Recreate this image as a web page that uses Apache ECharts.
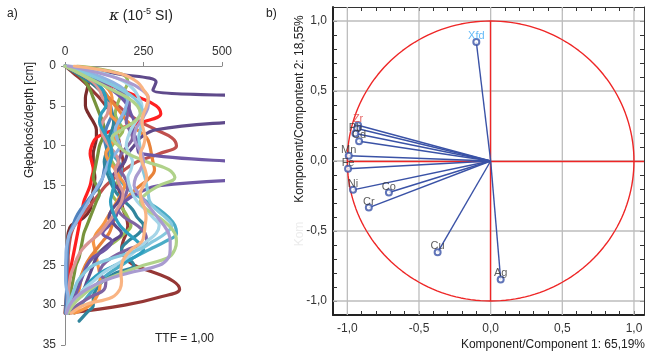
<!DOCTYPE html>
<html><head><meta charset="utf-8">
<script src="https://cdn.jsdelivr.net/npm/echarts@6/dist/echarts.min.js"></script>
<style>html,body{margin:0;padding:0;background:#fff}#c{width:647px;height:351px}</style>
</head><body><div id="c"></div>
<script>
// ---------- Panel a: magnetic susceptibility depth profiles ----------
var depthCm = [0,1,2,3,4,5,6,7,8,9,10,11,12,13,14,15,16,17,18,19,20,21,22,23,24,25,26,27,28,29,30,31,32];
var kappaTicks = [0,250,500];
var depthTicks = [0,5,10,15,20,25,30,35];

var kDarkPurple = [10,170,290,280,800,1200,900,540,290,240,220,200,190,170,150,160,180,170,150,140,160,180,150,120,100,90,80,70,60,40,20,10];
var kPurple2    = [0,60,110,150,180,200,210,220,215,225,230,240,560,1100,700,300,230,190,170,160,140,120,150,130,90,70,60,50,40,30,15,10];
var kBrown      = [0,30,60,85,110,130,150,160,165,170,175,180,185,180,175,170,175,180,185,195,200,195,185,180,190,220,290,345,365,300,190,10];
var kBrick      = [0,40,80,110,140,170,200,240,290,340,355,300,230,190,160,130,110,90,70,50,30,20,15,12,10,10,10,10,8,6,4,2];
var kMaroon     = [0,50,75,70,65,65,75,90,100,100,95,90,90,92,95,92,88,85,80,60,20,10,8,6,6,6,7,8,6,4,2,0];
var kRed        = [0,60,120,180,240,290,305,250,160,100,85,80,85,90,85,80,70,60,55,50,45,40,35,30,25,20,15,12,10,8,5,3];
var kOlive      = [0,40,65,80,90,100,110,120,125,120,110,105,100,95,90,100,110,100,90,80,70,60,55,50,45,35,30,25,20,15,10,5];
var kGreen      = [40,180,200,190,175,165,160,170,185,170,150,140,150,165,170,160,150,165,185,200,210,190,160,120,90,70,55,45,35,25,15,8];
var kTeal       = [0,80,140,170,190,200,190,175,160,150,140,150,170,180,175,190,220,260,300,330,350,355,320,270,220,180,140,110,90,70,50,30];
var kOrange     = [0,60,110,140,150,145,145,165,170,160,145,130,140,160,175,190,180,165,150,135,120,100,90,95,100,105,110,112,110,100,80,30];
var kOrange2    = [0,50,90,120,140,160,180,200,230,260,270,275,280,285,270,240,210,190,170,160,150,140,120,100,80,65,55,50,45,35,20,10];
var kPurple     = [0,70,130,175,200,205,200,195,205,215,200,180,170,175,190,200,195,180,170,190,230,255,260,200,150,120,110,130,125,80,40,10];
var kBlue       = [0,50,90,120,135,145,150,140,130,125,130,135,130,125,120,110,90,70,50,35,25,15,10,8,7,6,6,5,5,4,3,2];
var kLightBlue  = [0,90,150,190,200,195,185,170,160,165,175,160,140,130,120,105,90,75,60,45,30,15,8,4,3,2,2,2,5,10,8,4];
var kRose       = [0,50,90,110,120,140,135,120,115,125,140,160,170,160,165,175,185,180,165,150,130,110,80,55,40,30,20,15,12,10,8,5];
var kDarkTeal   = [0,40,80,110,130,140,150,155,150,140,135,130,125,130,140,150,165,190,215,230,250,235,200,180,200,220,160,120,100,90,90,68,45];
var kTeal2      = [5,60,100,120,130,130,115,110,120,135,145,150,145,140,150,155,150,145,150,160,175,200,230,250,220,160,110,80,60,40,20,8];
var kSky2       = [20,130,190,220,235,245,240,225,210,200,195,205,215,210,200,205,215,230,255,280,300,290,260,230,200,160,120,90,60,40,20,8];
var kSky        = [0,70,130,180,220,240,250,245,240,235,238,240,245,248,255,260,265,270,290,320,340,320,280,238,160,90,60,40,30,20,12,5];
var kLightGreen = [0,50,100,150,200,230,240,220,180,150,170,200,260,330,350,300,260,240,260,300,330,350,355,350,330,250,180,120,80,50,25,10];
var kLavender   = [10,120,200,245,265,265,255,240,225,220,230,245,250,240,225,220,235,255,275,295,315,330,335,335,330,300,200,120,70,35,15,5];
var kPeach      = [30,180,230,250,265,260,250,245,250,255,250,240,245,255,260,250,240,245,255,258,255,252,245,212,190,180,178,180,175,150,60,20];

var profiles = [
  [kMaroon,'#7b2c2c'],[kBrick,'#c0504d'],[kBrown,'#953735'],[kRed,'#ff2020'],
  [kOlive,'#77933c'],[kGreen,'#9bbb59'],[kBlue,'#4f81bd'],[kDarkTeal,'#31859c'],
  [kTeal,'#4bacc6'],[kOrange,'#f79646'],[kOrange2,'#e8833a'],[kPurple,'#8064a2'],
  [kDarkPurple,'#5f4a8b'],[kPurple2,'#6f58a6'],[kRose,'#d99694'],[kLightBlue,'#8db3e2'],
  [kTeal2,'#2e9fbf'],[kSky2,'#a5d5e8'],[kSky,'#86c8de'],[kLightGreen,'#b0d28a'],
  [kLavender,'#a99bd0'],[kPeach,'#f9b483']
];

// ---------- Panel b: PCA loadings ----------
var pcaNames = ['Xfd','Zr','','Pb','Cd','Mn','Fe','Ni','Co','Cr','Cu','Ag'];
var pcaPC1   = [-0.10,-0.925,-0.932,-0.944,-0.918,-0.99,-0.995,-0.96,-0.71,-0.85,-0.37,0.07];
var pcaPC2   = [0.85,0.255,0.232,0.196,0.141,0.037,-0.055,-0.206,-0.225,-0.333,-0.652,-0.846];
var pcaMajorTicks = [-1,-0.5,0,0.5,1];
var pcaMinorTicks = [-1,-0.9,-0.8,-0.7,-0.6,-0.5,-0.4,-0.3,-0.2,-0.1,0,0.1,0.2,0.3,0.4,0.5,0.6,0.7,0.8,0.9,1];
var pcaXRange = [-1.1, 1.07];
var pcaYRange = [-1.1, 1.1];
var circleRadius = 1;

var FONT = 'Liberation Sans, Arial, sans-serif';
function comma(v){ return (Math.round(v*10)/10).toFixed(1).replace('.', ','); }

var series = [];

// grid lines (panel b), one line series each, drawn first
pcaMajorTicks.forEach(function(t){
  [[[t,pcaYRange[0]],[t,pcaYRange[1]]], [[pcaXRange[0],t],[pcaXRange[1],t]]].forEach(function(seg){
    series.push({type:'line', xAxisIndex:1, yAxisIndex:1, data:seg, showSymbol:false, silent:true, z:1,
      lineStyle:{color:'#bdbdbd', width:1.3, opacity:1}});
  });
});

profiles.forEach(function(p){
  series.push({
    type:'line', xAxisIndex:0, yAxisIndex:0, showSymbol:false, smooth:0.4, clip:true,
    lineStyle:{color:p[1], width:3.2, cap:'round', join:'round'},
    data:p[0].map(function(v,i){ return [v, depthCm[i]]; }), silent:true
  });
});

// unit circle
var circ = [];
for (var a=0; a<=360; a+=2){ var r=a*Math.PI/180; circ.push([circleRadius*Math.cos(r), circleRadius*Math.sin(r)]); }
series.push({type:'line', xAxisIndex:1, yAxisIndex:1, data:circ, showSymbol:false, silent:true, z:3,
  lineStyle:{color:'#ee2626', width:1.4}});
// red axes lines
series.push({type:'lines', coordinateSystem:'cartesian2d', xAxisIndex:1, yAxisIndex:1, silent:true, z:3,
  lineStyle:{color:'#ee2626', width:1.4, opacity:1},
  data:[{coords:[[0,-circleRadius],[0,circleRadius]]},{coords:[[-circleRadius,0],[pcaXRange[1],0]]}]});
// loading vectors
series.push({type:'lines', coordinateSystem:'cartesian2d', xAxisIndex:1, yAxisIndex:1, silent:true, z:4,
  lineStyle:{color:'#3a52a6', width:1.4, opacity:1},
  data:pcaNames.map(function(n,i){ return {coords:[[0,0],[pcaPC1[i],pcaPC2[i]]]}; })});
// points with labels
series.push({type:'scatter', xAxisIndex:1, yAxisIndex:1, z:5, symbol:'emptyCircle', symbolSize:6,
  itemStyle:{color:'#3a52a6', borderWidth:1.4},
  data:pcaNames.map(function(n,i){
    var col = n==='Xfd' ? '#3fa9f5' : (n==='Zr' ? '#e04040' : '#333');
    return {value:[pcaPC1[i],pcaPC2[i]], label:{show:n!=='', formatter:n, color:col}};
  }),
  label:{show:true, position:'inside', offset:[0,-6], fontSize:11, fontFamily:FONT, color:'#333'}
});

var option = {
  animation:false,
  textStyle:{fontFamily:FONT},
  grid:[
    {left:65, top:66, width:157, height:279},
    {left:333, top:7, width:311, height:308, show:false}
  ],
  xAxis:[
    {gridIndex:0, type:'value', position:'top', min:0, max:500, interval:250,
     axisLine:{show:true, lineStyle:{color:'#8a8a8a', width:1}},
     axisTick:{show:true, length:4, lineStyle:{color:'#8a8a8a'}},
     axisLabel:{fontSize:12, color:'#333', margin:8, fontFamily:FONT},
     splitLine:{show:false}},
    {gridIndex:1, type:'value', position:'bottom', min:pcaXRange[0], max:pcaXRange[1],
     axisLine:{show:true, onZero:false, lineStyle:{color:'#222', width:2}},
     axisTick:{show:true, inside:true, length:4, customValues:pcaMinorTicks, lineStyle:{color:'#333'}},
     axisLabel:{customValues:pcaMajorTicks, formatter:comma, fontSize:12, color:'#333', margin:8, fontFamily:FONT},
     splitLine:{show:false}},
    {gridIndex:1, type:'value', position:'top', min:pcaXRange[0], max:pcaXRange[1],
     axisLine:{show:true, onZero:false, lineStyle:{color:'#333', width:1}},
     axisTick:{show:true, inside:true, length:4, customValues:pcaMinorTicks, lineStyle:{color:'#333'}},
     axisLabel:{show:false}, splitLine:{show:false}}
  ],
  yAxis:[
    {gridIndex:0, type:'value', inverse:true, min:0, max:35, interval:5,
     axisLine:{show:true, lineStyle:{color:'#8a8a8a', width:1}},
     axisTick:{show:true, length:4, lineStyle:{color:'#8a8a8a'}},
     axisLabel:{fontSize:12, color:'#333', margin:9, fontFamily:FONT},
     splitLine:{show:false}},
    {gridIndex:1, type:'value', position:'left', min:pcaYRange[0], max:pcaYRange[1],
     axisLine:{show:true, onZero:false, lineStyle:{color:'#222', width:2}},
     axisTick:{show:true, inside:true, length:4, customValues:pcaMinorTicks, lineStyle:{color:'#333'}},
     axisLabel:{customValues:pcaMajorTicks, formatter:comma, fontSize:12, color:'#333', margin:6, fontFamily:FONT},
     splitLine:{show:false}},
    {gridIndex:1, type:'value', position:'right', min:pcaYRange[0], max:pcaYRange[1],
     axisLine:{show:true, onZero:false, lineStyle:{color:'#333', width:1}},
     axisTick:{show:true, inside:true, length:4, customValues:pcaMinorTicks, lineStyle:{color:'#333'}},
     axisLabel:{show:false}, splitLine:{show:false}}
  ],
  graphic:[
    {type:'text', left:7, top:8, style:{text:'a)', fontSize:12, fill:'#222', fontFamily:FONT}},
    {type:'text', x:141, y:16, style:{text:'{i|\u03ba} (10{s|-5} SI)', align:'center', verticalAlign:'middle', fontSize:14, fill:'#222', fontFamily:FONT,
      rich:{i:{fontStyle:'italic', fontSize:15, fill:'#222', fontFamily:'DejaVu Serif'}, s:{fontSize:9, verticalAlign:'top', padding:[0,0,8,0], fill:'#222'}}}},
    {type:'text', x:30, y:120, rotation:Math.PI/2, style:{text:'G\u0142\u0119boko\u015b\u0107/depth [cm]', align:'center', verticalAlign:'middle', fontSize:12, fill:'#222', fontFamily:FONT}},
    {type:'text', x:155, y:339, style:{text:'TTF = 1,00', align:'left', verticalAlign:'middle', fontSize:12, fill:'#222', fontFamily:FONT}},
    {type:'text', left:266, top:8, style:{text:'b)', fontSize:12, fill:'#222', fontFamily:FONT}},
    {type:'text', x:300, y:109, rotation:Math.PI/2, style:{text:'Komponent/Compontent 2: 18,55%', align:'center', verticalAlign:'middle', fontSize:12, fill:'#222', fontFamily:FONT}},
    {type:'text', x:300, y:234, rotation:Math.PI/2, style:{text:'Kom', align:'center', verticalAlign:'middle', fontSize:12, fill:'#ececec', fontFamily:FONT}},
    {type:'text', x:645, y:345, style:{text:'Komponent/Component 1: 65,19%', align:'right', verticalAlign:'middle', fontSize:12, fill:'#222', fontFamily:FONT}}
  ],
  series:series
};
var chart = echarts.init(document.getElementById('c'), null, {renderer:'canvas'});
chart.setOption(option);
</script></body></html>
